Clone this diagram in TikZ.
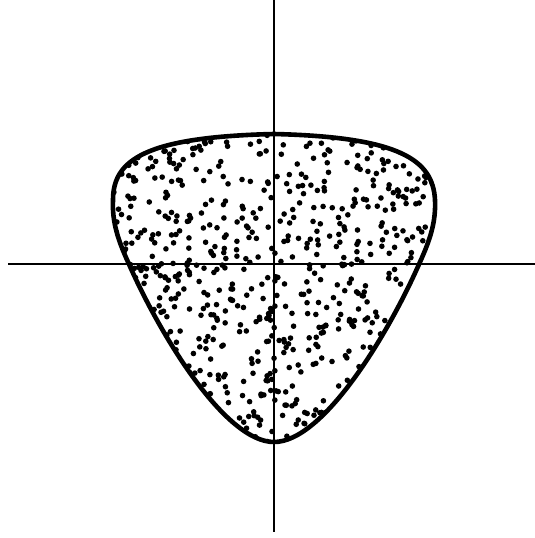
\documentclass[tikz,border=0pt]{standalone}
\begin{document}
\begin{tikzpicture}[x=1pt,y=-1pt,
  axis/.style={line width=2.6pt},
  outline/.style={line width=4.6pt},
  dot/.style={fill=black}]
\useasboundingbox (0,0) rectangle (535,538);
\def\pickshape{(274,134) .. controls (145,137) and (113,160) .. (113,200)
  .. controls (112,222) and (118,240) .. (128,262)
  .. controls (160,335) and (225,442) .. (274,442)
  .. controls (323,442) and (388,335) .. (420,262)
  .. controls (430,240) and (436,222) .. (435,200)
  .. controls (433,160) and (400,137) .. (274,134) -- cycle}
\begin{scope}
  \clip \pickshape;
  \pgfmathsetseed{4242}
  \foreach \i in {1,...,800} {
    \pgfmathsetmacro\px{113+322*rnd}
    \pgfmathsetmacro\py{134+308*rnd}
    \fill[dot] (\px,\py) circle (2.8pt);
  }
\end{scope}
\coordinate (top) at (274,0);
\coordinate (bot) at (274,532);
\coordinate (lft) at (8,264);
\coordinate (rgt) at (535,264);
\draw[axis] (top) -- (bot);
\draw[axis] (lft) -- (rgt);
\draw[outline,line join=round] \pickshape;
\end{tikzpicture}
\end{document}
